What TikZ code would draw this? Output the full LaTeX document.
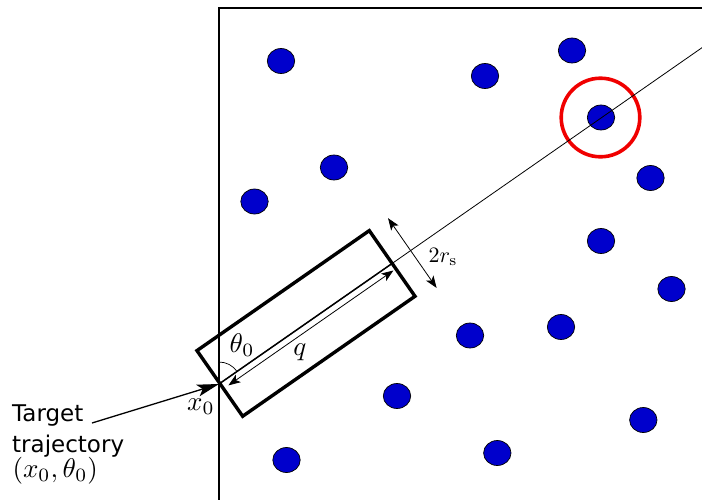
\documentclass[tikz,border=0pt]{standalone}
\usepackage{fontspec}
\newfontfamily\labelsans{DejaVu Sans}
\usetikzlibrary{arrows.meta,calc,shapes.geometric}
\definecolor{dotblue}{RGB}{0,0,204}
\definecolor{ringred}{RGB}{240,0,0}
\begin{document}
\begin{tikzpicture}[x=1pt,y=1pt,
  dot/.style={ellipse, draw=black, line width=0.7pt, fill=dotblue,
    minimum width=27.4pt, minimum height=25pt, inner sep=0pt},
  frame/.style={line width=2.4pt, line cap=rect},
  rectline/.style={line width=3.4pt, line join=miter},
  thinarrow/.style={line width=0.8pt, {Stealth[length=12pt,width=9pt,inset=3pt]}-{Stealth[length=12pt,width=9pt,inset=3pt]}},
  mathlbl/.style={scale=2.7, inner sep=0pt},
  sanslbl/.style={font=\labelsans\fontsize{23}{28}\selectfont, inner sep=0pt, anchor=base west}
]
\useasboundingbox (0,0) rectangle (702,-499);

% frame
\coordinate (ftr) at (704,-8);
\coordinate (ftl) at (219,-8);
\coordinate (fbl) at (219,-501);
\draw[frame] (ftr) -- (ftl) -- (fbl);

% dots
\node[dot] (d1) at (281,-61) {};
\node[dot] (d2) at (485,-76) {};
\node[dot] (d3) at (572,-50.5) {};
\node[dot] (d4) at (601,-117.5) {};
\node[dot] (d5) at (334,-167.5) {};
\node[dot] (d6) at (254.5,-201.5) {};
\node[dot] (d7) at (650.5,-178) {};
\node[dot] (d8) at (601,-241) {};
\node[dot] (d9) at (671.5,-289) {};
\node[dot] (d10) at (470,-335.5) {};
\node[dot] (d11) at (561,-327) {};
\node[dot] (d12) at (397,-396) {};
\node[dot] (d13) at (643.3,-420) {};
\node[dot] (d14) at (286.5,-460) {};
\node[dot] (d15) at (497.3,-453) {};

% red ring
\node[circle, draw=ringred, line width=3.6pt, minimum size=78.6pt, inner sep=0pt] (ring) at (600.5,-117.5) {};

% trajectory
\coordinate (x0) at (219,-384);
\coordinate (tend) at ($(x0)+(34.85:590)$);
\coordinate (tmid) at ($(x0)+(34.85:211)$);
\draw[line width=0.8pt] (x0) -- (tend);
\draw[line width=1.5pt] (x0) -- (tmid);

\begin{scope}[shift={(x0)}, rotate=34.85]
  \coordinate (r1) at (1,-40);
  \coordinate (r2) at (211,-40);
  \coordinate (r3) at (211,40);
  \coordinate (r4) at (1,40);
  \draw[rectline] (r1) -- (r2) -- (r3) -- (r4) -- cycle;
  \coordinate (qa) at (7,-6.5);
  \coordinate (qb) at (208,-6.5);
  \draw[thinarrow] (qa) -- (qb);
  \coordinate (wa) at (233.5,39.5);
  \coordinate (wb) at (233.5,-45.5);
  \draw[thinarrow] (wa) -- (wb);
\end{scope}

% angle arc
\coordinate (arcstart) at ($(x0)+(0,22)$);
\draw[line width=0.7pt] (arcstart) arc[start angle=90, end angle=34.85, radius=22];

% labels
\node[mathlbl] (th) at (242,-345) {$\theta_0$};
\node[mathlbl] (ql) at (300,-352) {$q$};
\node[mathlbl] (xl) at (201,-407) {$x_0$};
\node[inner sep=0pt, scale=2.2] (wl) at (443,-257) {$2r_{\mathrm{s}}$};

% target label
\node[sanslbl] (t1) at (12,-421.7) {Target};
\node[sanslbl] (t2) at (12,-452.5) {trajectory};
\node[inner sep=0pt, anchor=base west, scale=2.7] (t3) at (12,-477.5) {$(x_0,\theta_0)$};
\coordinate (tstart) at (92,-423);
\draw[line width=1.3pt, -{Stealth[length=22pt,width=12pt,inset=5pt]}] (tstart) -- (x0);
\end{tikzpicture}
\end{document}
